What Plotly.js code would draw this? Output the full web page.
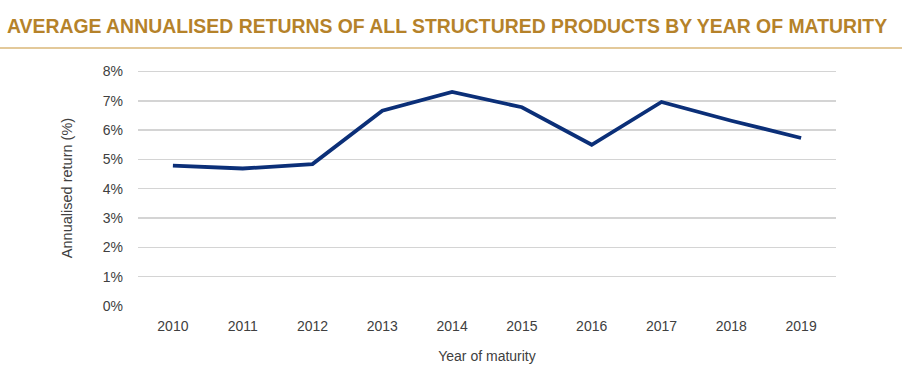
<!DOCTYPE html>
<html>
<head>
<meta charset="utf-8">
<script src="https://cdn.plot.ly/plotly-3.0.1.min.js"></script>
<style>html,body{margin:0;padding:0;background:#fff;}#chart{width:902px;height:371px;}</style>
</head>
<body>
<div id="chart"></div>
<script>
var years = ["2010","2011","2012","2013","2014","2015","2016","2017","2018","2019"];
var returnsPct = [4.79, 4.69, 4.84, 6.66, 7.30, 6.78, 5.50, 6.96, 6.32, 5.73];
var yTickVals = [0,1,2,3,4,5,6,7,8];
var yTickText = ["0%","1%","2%","3%","4%","5%","6%","7%","8%"];
var chartTitle = "AVERAGE ANNUALISED RETURNS OF ALL STRUCTURED PRODUCTS BY YEAR OF MATURITY";

var trace = {
  x: years, y: returnsPct, type: "scatter", mode: "lines",
  line: {color: "#0b2f78", width: 3.8},
  hoverinfo: "skip"
};
var layout = {
  width: 902, height: 371,
  margin: {l: 138, r: 66, t: 70, b: 65},
  paper_bgcolor: "#fff", plot_bgcolor: "#fff",
  showlegend: false,
  font: {family: "Liberation Sans, Arial, sans-serif", color: "#404040", size: 14},
  xaxis: {
    type: "category", range: [-0.5, 9.5],
    showgrid: false, zeroline: false, showline: false, ticks: "",
    ticklabelstandoff: 10,
    tickfont: {size: 14, color: "#404040"},
    title: {text: "Year of maturity", font: {size: 14, color: "#404040"}, standoff: 18}
  },
  yaxis: {
    range: [0, 8.05], tickvals: yTickVals, ticktext: yTickText,
    showgrid: true, gridcolor: "#d4d4d4", gridwidth: 1.5,
    zeroline: false, showline: false, ticks: "",
    ticklabelstandoff: 14,
    tickfont: {size: 14, color: "#404040"},
    title: {text: "Annualised return (%)", font: {size: 14.5, color: "#404040"}, standoff: 26}
  },
  annotations: [{
    text: "<b>" + chartTitle + "</b>", xref: "paper", yref: "paper",
    x: -133/698, y: 1 + 44/236, xanchor: "left", yanchor: "middle", showarrow: false,
    font: {family: "Liberation Sans, Arial, sans-serif", size: 19.4, color: "#b5822a"}
  }],
  shapes: [{
    type: "line", xref: "paper", yref: "paper",
    x0: -138/698, x1: 1 + 66/698, y0: 1 + 22/236, y1: 1 + 22/236,
    line: {color: "#e3c99a", width: 2}
  }]
};
Plotly.newPlot("chart", [trace], layout, {staticPlot: true, displayModeBar: false});
</script>
</body>
</html>
